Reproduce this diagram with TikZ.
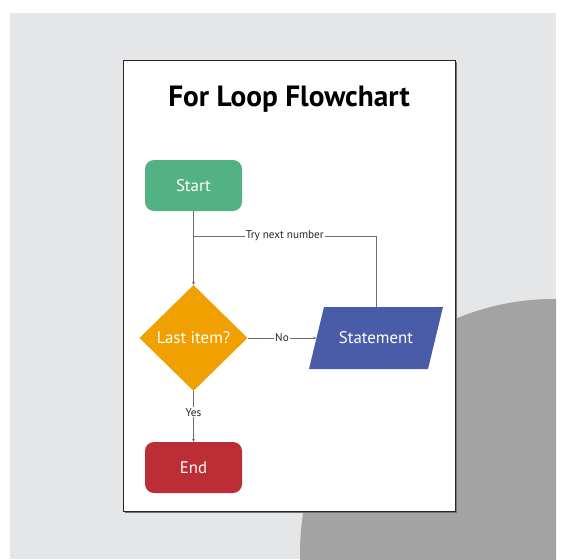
\documentclass[tikz,border=0pt]{standalone}
\usepackage{fontspec}
\setmainfont{PT Sans}
\usetikzlibrary{arrows.meta,shapes.geometric}
\definecolor{bgpanel}{HTML}{E5E6E8}
\definecolor{discgray}{HTML}{A3A3A3}
\definecolor{startgreen}{HTML}{52B283}
\definecolor{decorange}{HTML}{F0A000}
\definecolor{ioblue}{HTML}{4A5CA8}
\definecolor{endred}{HTML}{BC2D36}
\definecolor{wire}{HTML}{6E6E6E}
\tikzset{
  term/.style={rounded corners=9pt, minimum width=97pt, minimum height=51pt,
               text=white, font=\fontsize{16.8}{19}\selectfont},
  dec/.style={diamond, fill=decorange, minimum width=108pt, minimum height=106pt,
              inner sep=0pt, text=white, font=\fontsize{16.8}{19}\selectfont},
  io/.style={minimum width=134pt, minimum height=62pt, inner sep=0pt,
             text=white, font=\fontsize{16.8}{19}\selectfont,
             path picture={\fill[ioblue] (path picture bounding box.south west)
               -- ([xshift=15pt]path picture bounding box.north west)
               -- (path picture bounding box.north east)
               -- ([xshift=-15pt]path picture bounding box.south east) -- cycle;}},
  flow/.style={-{Stealth[length=3pt,width=3pt]}, draw=wire, line width=0.8pt},
  link/.style={draw=wire, line width=0.8pt},
  lbl/.style={font=\fontsize{11.2}{13}\selectfont, fill=white, inner sep=1pt, text=black!85},
}

\begin{document}
\begin{tikzpicture}[x=1pt, y=-1pt]
  \useasboundingbox (0,0) rectangle (567,559);
  \fill[white] (0,0) rectangle (567,559);
  \fill[bgpanel] (10,13) rectangle (556,559);
  \begin{scope}
    \clip (10,13) rectangle (556,559);
    \fill[discgray] (554,553) circle[radius=254];
  \end{scope}
  % the sheet
  \fill[black!55] (124.5,62.5) rectangle (456.5,512.5);
  \filldraw[fill=white, draw=black!85, line width=1pt] (123,61) rectangle (455,511);
  \node[font=\bfseries\fontsize{29.3}{33}\selectfont] (title) at (289,99) {For Loop Flowchart};
  % flowchart
  \node[term, fill=startgreen] (start) at (193.5,185.5) {Start};
  \node[dec] (check) at (193.5,338) {Last item?};
  \node[io] (stmt) at (376,338) {Statement};
  \node[term, fill=endred] (finish) at (193.5,467.5) {End};
  \coordinate (merge) at (193.5,236);
  \draw[flow] (start) -- (check);
  \draw[flow] (check) -- node[lbl] {No} ([xshift=7.5pt]stmt.west);
  \draw[flow] (check) -- node[lbl, pos=0.42] {Yes} (finish);
  \draw[link] (stmt.north) |- node[lbl, pos=0.75] {Try next number} (merge);
\end{tikzpicture}
\end{document}
